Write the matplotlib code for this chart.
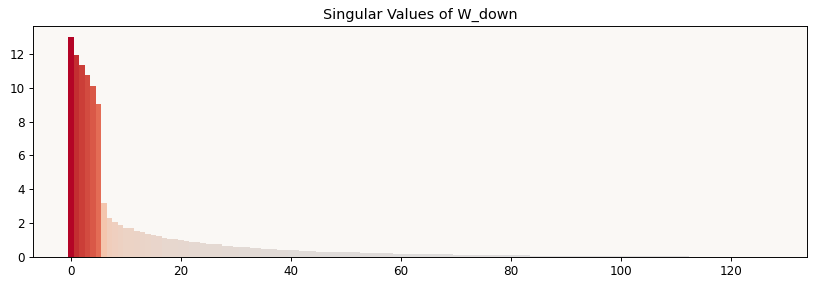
import numpy as np
import matplotlib
matplotlib.use("Agg")
import matplotlib.pyplot as plt
from matplotlib import cm, colors

# singular values (index 0..127)
sv_head = [13.0, 11.95, 11.35, 10.75, 10.1, 9.05]
sv_mid = [3.2, 2.3, 2.05, 1.87, 1.72, 1.70, 1.54, 1.46, 1.35, 1.28,
          1.22, 1.11, 1.09, 1.04, 1.00, 0.95, 0.88, 0.86, 0.81, 0.76,
          0.75, 0.74, 0.64, 0.63, 0.62, 0.58, 0.57, 0.53, 0.52, 0.50,
          0.47, 0.46, 0.42, 0.41, 0.40, 0.39, 0.36, 0.35, 0.34]
sv_tail = [0.31, 0.30, 0.30, 0.29, 0.29, 0.28, 0.28, 0.27,
           0.25, 0.24, 0.24, 0.23, 0.23, 0.22,
           0.20, 0.19, 0.19, 0.18,
           0.18, 0.17, 0.17, 0.16, 0.16, 0.15, 0.15, 0.14,
           0.13, 0.13, 0.12, 0.12, 0.12, 0.11, 0.11, 0.11, 0.10, 0.10,
           0.10, 0.09, 0.09,
           0.065, 0.06, 0.06, 0.06, 0.055, 0.055, 0.055, 0.05, 0.05, 0.05,
           0.05, 0.048, 0.047, 0.046, 0.045, 0.044, 0.043, 0.042, 0.041,
           0.040, 0.039, 0.038, 0.037, 0.036, 0.035, 0.034, 0.033, 0.032,
           0.031,
           0.015, 0.014, 0.013, 0.012, 0.011, 0.010, 0.009, 0.008, 0.007,
           0.006, 0.005, 0.004, 0.003, 0.002, 0.001]
sv = np.array(sv_head + sv_mid + sv_tail)
idx = np.arange(len(sv))

title = "Singular Values of W_down"

dpi = 86
fig = plt.figure(figsize=(816 / dpi, 286 / dpi), dpi=dpi)
ax = fig.add_axes([0.0404, 0.1014, 0.9486, 0.8076])
ax.set_facecolor("#faf8f5")

norm = colors.Normalize(vmin=-sv.max(), vmax=sv.max())
bar_colors = cm.coolwarm(norm(sv))
ax.bar(idx, sv, width=1.0, color=bar_colors)
ax.set_title(title)

fig.savefig("out.png", dpi=dpi)
